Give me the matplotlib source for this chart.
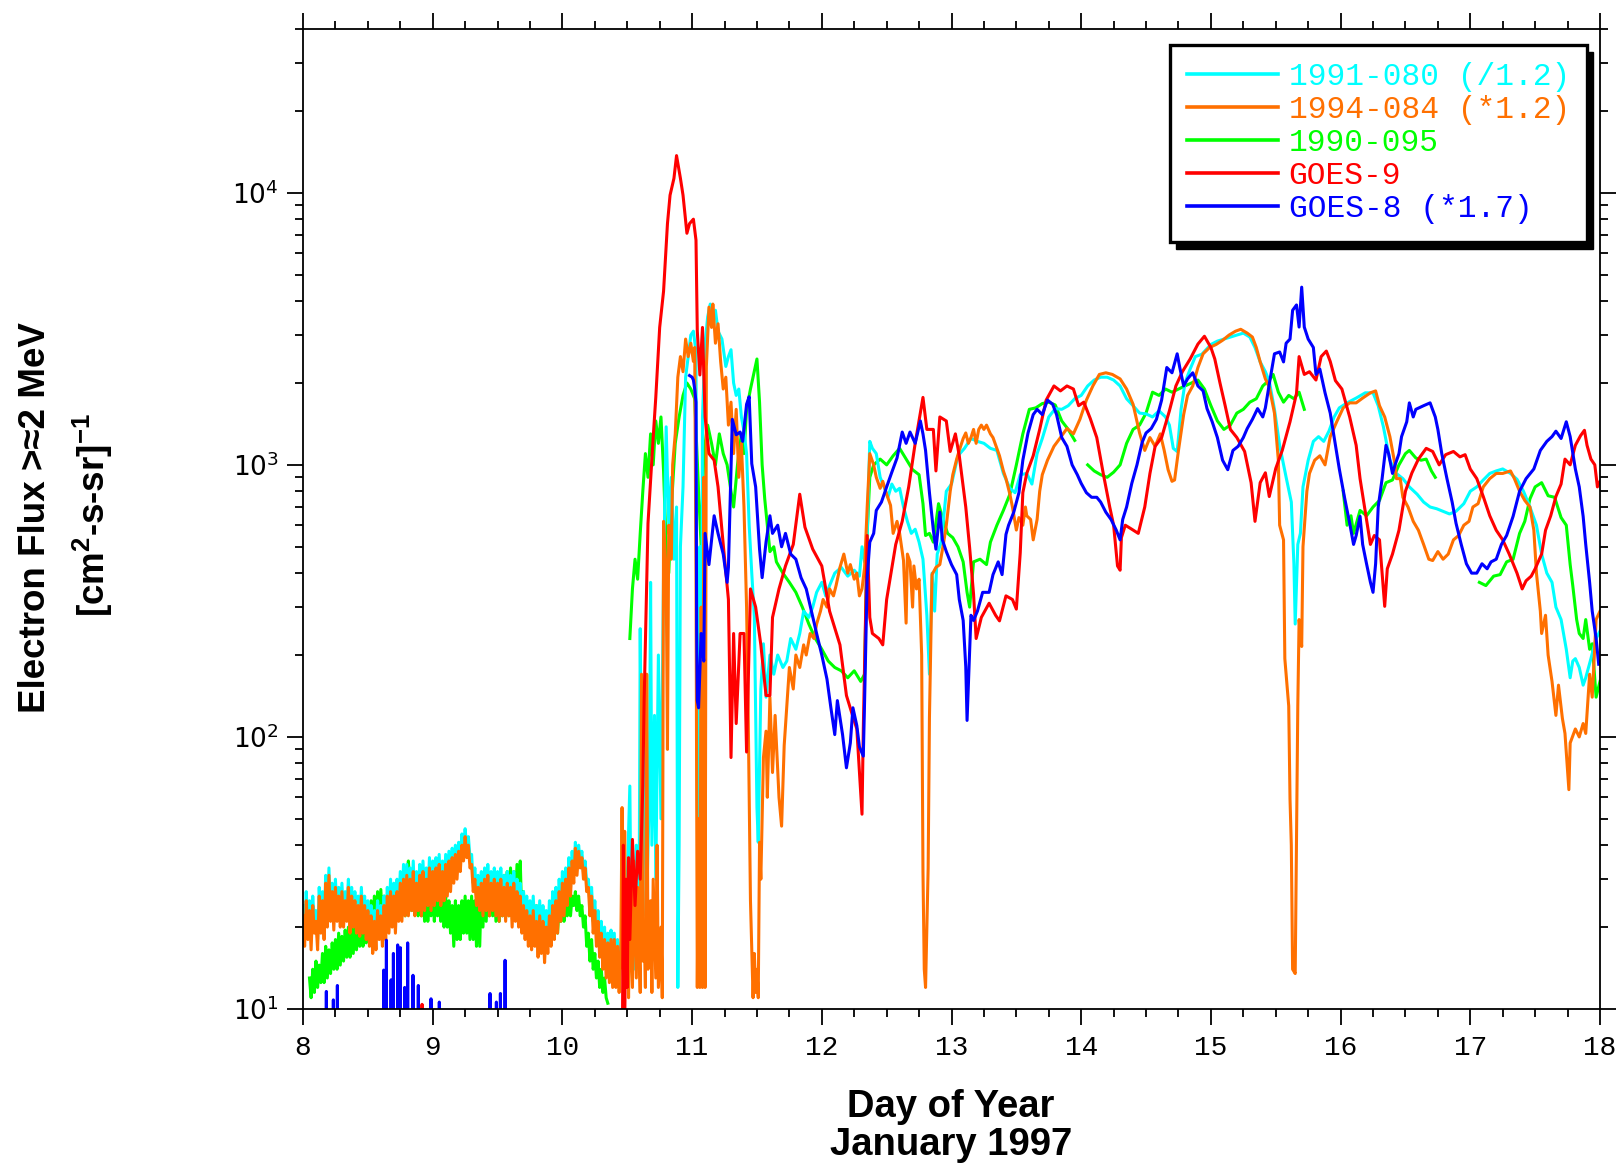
import numpy as np
import matplotlib
matplotlib.use("Agg")
import matplotlib.pyplot as plt
from matplotlib.ticker import MultipleLocator, LogLocator, NullFormatter
from matplotlib.patches import Rectangle

plt.rcParams["mathtext.fontset"] = "custom"
plt.rcParams["mathtext.bf"] = "Liberation Sans:bold"
plt.rcParams["mathtext.rm"] = "Liberation Sans"

nan = np.nan

# ---------------- data (day of year, flux) ----------------
x_ticks = list(range(8, 19))
x_tick_labels = [str(v) for v in x_ticks]
y_ticks = [10, 100, 1000, 10000]

series_labels = ["1991-080 (/1.2)", "1994-084 (*1.2)", "1990-095", "GOES-9", "GOES-8 (*1.7)"]
series_colors = ["#00FFFF", "#FF7000", "#00FF00", "#FF0000", "#0000FF"]

# early noisy parts: samples every 0.0125 day
early_step = 0.0125
orange_early_start = 8.0
orange_early = [22, 17, 25, 18, 23, 16.5, 24, 19,
                21, 16.5, 26, 19, 25, 18, 29, 20,
                31, 21, 27, 19.5, 28, 21, 26, 20,
                27, 20, 25, 21, 28, 19, 26, 20,
                25, 19, 24, 18.5, 26, 19, 24, 18,
                23, 17, 22, 16, 21, 16.5, 23, 18,
                22, 17, 24, 18, 26, 19, 27, 20,
                26, 19, 27, 21, 29, 21, 30, 22,
                31, 22, 30, 23, 32, 22, 29, 23,
                31, 22, 32, 23, 30, 24, 33, 23,
                32, 24, 33, 25, 34, 24, 32, 25,
                34, 26, 35, 27, 36, 29, 37, 30,
                38, 32, 40, 35, 43, 36, 40, 33,
                34, 27, 30, 24, 28, 23, 29, 22,
                30, 23, 31, 22, 29, 23, 30, 22,
                29, 21, 30, 22, 28, 21, 29, 22,
                28, 20, 29, 21, 27, 20, 26, 19,
                24, 18, 23, 17, 22, 16.5, 23, 17,
                21, 15.5, 22, 16, 21, 14.8, 20, 16,
                22, 17, 24, 18, 25, 19, 27, 21,
                29, 22, 30, 24, 33, 26, 35, 29,
                39, 31, 38, 33, 36, 30, 33, 27,
                28, 22, 26, 19, 23, 17, 21, 15.5,
                19, 14, 18, 13, 17.5, 12.5, 18, 12,
                18, 12, 17, 11.5, 16]
cyan_early_start = 8.0
cyan_early = [24, 19, 27, 20, 25, 18.5, 26, 21,
              23, 18, 28, 21, 27, 20, 31, 22,
              33, 23, 29, 21.5, 30, 23, 28, 22,
              29, 22, 27, 23, 30, 21, 28, 22,
              27, 21, 26, 20.5, 28, 21, 26, 20,
              25, 19, 24, 18, 23, 18.5, 25, 20,
              24, 19, 26, 20, 28, 21, 30, 22,
              29, 21, 30, 23, 32, 23, 34, 24,
              34, 24, 33, 25, 35, 24, 32, 25,
              34, 24, 35, 25, 33, 26, 36, 25,
              35, 26, 36, 27, 37, 26, 35, 27,
              37, 28, 38, 29, 39, 31, 40, 32,
              41, 35, 44, 38, 46, 39, 43, 36,
              37, 29, 33, 26, 31, 25, 32, 24,
              33, 25, 34, 24, 32, 25, 33, 24,
              32, 23, 33, 24, 31, 23, 32, 24,
              31, 22, 32, 23, 30, 22, 29, 21,
              27, 20, 26, 19, 25, 18.5, 26, 19,
              24, 17.5, 25, 18, 24, 17, 23, 18,
              25, 19, 27, 20, 28, 21, 30, 23,
              32, 24, 33, 26, 36, 28, 38, 31,
              41, 33, 40, 35, 38, 32, 35, 29,
              30, 24, 28, 21, 25, 19, 23, 17,
              21, 15.5, 20, 14.5, 19, 14, 19.5, 13,
              19, 13, 18, 12.5, 17]
green_early_start = 8.05
green_early = [13, 11, 14, 11.5, 15, 12, 14.5, 12.5,
               16, 12.5, 17, 13, 16.5, 13.5, 17.5, 14,
               18, 14, 19, 14.5, 18.5, 15, 19.5, 15.5,
               20, 15.5, 21, 16, 20.5, 16.5, 22, 17,
               22, 17, 23, 17.5, 24, 18, 25, 18.5,
               26, 19, 27, 19.5, 27.5, 20, 26, 20.5,
               25, 20, 26, 21, 26, 21, 27, 21.5,
               27, 22, 28, 22, 29, 35, 28, 23,
               29, 23, 28, 22, 27, 22, 28, 21,
               28, 21, 27, 22, 28, 21, 27, 22,
               26, 21, 27, 20, 26, 20, 25, 19,
               24, 17, 25, 18, 24, 18, 25, 19,
               26, 19, 25, 18, 26, 18, 25, 17,
               27, 17, 28, 20, 29, 21, 30, 22,
               31, 22, 30, 21, 31, 21, 29, 22,
               31, 23, 32, 22, 33, 22, 32, 24,
               34, 24, 35, 21, 27, 20, 25, 19,
               24, 19, 23, 18, 24, 18, 23, 17.5,
               22, 17, 21, 18, 22, 20, 24, 19,
               25, 19, 24, 21, 26, 21, 25, 22,
               27, 22, 26, 24, 27, 23, 26, 22,
               24, 20, 22, 17, 19, 15, 18, 14,
               16, 13, 15, 12, 14, 11.5, 13, 11,
               10.5]

cyan_late = [
    (10.47, 20), (10.49, 13), (10.5, 30), (10.52, 66), (10.53, 20), (10.55, 14), (10.57, 40),
    (10.59, 16), (10.6, 250), (10.61, 60), (10.62, 22), (10.63, 150), (10.65, 25), (10.67, 60),
    (10.68, 370), (10.69, 40), (10.71, 120), (10.72, 30), (10.74, 200), (10.76, 50), (10.78, 400),
    (10.8, 1380), (10.82, 600), (10.84, 900), (10.86, 450), (10.88, 700), (10.89, 12), (10.9, 40),
    (10.91, 500), (10.93, 830), (10.95, 2100), (10.97, 2500), (10.99, 3000), (11.01, 3100),
    (11.03, 2600), (11.04, 60), (11.05, 20), (11.06, 500), (11.07, 30), (11.08, 1500), (11.1, 2800),
    (11.12, 3500), (11.14, 3900), (11.16, 3400), (11.18, 3700), (11.2, 3100), (11.23, 2900),
    (11.26, 2300), (11.28, 2500), (11.3, 2650), (11.32, 2000), (11.34, 1800), (11.36, 1900),
    (11.38, 1500), (11.4, 1330), (11.42, 1100), (11.44, 600), (11.46, 400), (11.48, 275),
    (11.5, 55), (11.51, 41), (11.53, 150), (11.55, 220), (11.57, 140), (11.6, 200), (11.63, 170),
    (11.66, 200), (11.7, 180), (11.73, 190), (11.76, 230), (11.8, 210), (11.83, 240), (11.86, 290),
    (11.9, 275), (11.93, 300), (11.96, 340), (12.0, 370), (12.03, 330), (12.06, 360), (12.1, 400),
    (12.15, 420), (12.2, 390), (12.25, 410), (12.29, 390), (12.31, 500), (12.33, 440), (12.35, 560),
    (12.37, 1220), (12.39, 1150), (12.42, 1100), (12.45, 900), (12.48, 830), (12.51, 760),
    (12.54, 850), (12.57, 800), (12.6, 820), (12.63, 700), (12.66, 620), (12.69, 560), (12.72, 580),
    (12.75, 520), (12.78, 450), (12.81, 280), (12.83, 170), (12.85, 400), (12.87, 290), (12.89, 470),
    (12.92, 520), (12.96, 800), (13.0, 850), (13.05, 1080), (13.1, 1150), (13.15, 1250),
    (13.2, 1220), (13.25, 1200), (13.3, 1150), (13.35, 1130), (13.4, 930), (13.45, 820),
    (13.49, 790), (13.53, 920), (13.58, 930), (13.62, 850), (13.66, 1100), (13.7, 1250),
    (13.75, 1500), (13.8, 1610), (13.85, 1600), (13.9, 1650), (13.95, 1750), (14.0, 1800),
    (14.05, 1950), (14.1, 2050), (14.15, 2100), (14.2, 2100), (14.25, 2050), (14.3, 1950),
    (14.35, 1750), (14.4, 1650), (14.45, 1550), (14.5, 1540), (14.55, 1500), (14.6, 1580),
    (14.65, 1500), (14.68, 1400), (14.71, 1150), (14.74, 1120), (14.77, 1600), (14.8, 2000),
    (14.84, 2250), (14.88, 2500), (14.93, 2550), (15.0, 2770), (15.05, 2850), (15.1, 2900),
    (15.15, 2950), (15.2, 3000), (15.25, 3050), (15.3, 2950), (15.34, 2700), (15.38, 2390),
    (15.42, 2200), (15.45, 2030), (15.49, 1600), (15.53, 1180), (15.58, 900), (15.62, 730),
    (15.64, 433), (15.65, 260), (15.67, 510), (15.69, 560), (15.71, 830), (15.75, 1040),
    (15.79, 1220), (15.83, 1270), (15.87, 1220), (15.91, 1330), (15.95, 1500), (15.99, 1620),
    (16.05, 1690), (16.12, 1760), (16.19, 1840), (16.25, 1840), (16.29, 1650), (16.33, 1380),
    (16.38, 1040), (16.43, 930), (16.48, 890), (16.53, 830), (16.59, 780), (16.64, 730),
    (16.69, 700), (16.74, 690), (16.79, 675), (16.84, 660), (16.89, 675), (16.95, 720),
    (17.0, 800), (17.05, 830), (17.1, 880), (17.15, 930), (17.2, 950), (17.25, 966), (17.31, 930),
    (17.36, 885), (17.41, 800), (17.46, 700), (17.51, 600), (17.55, 470), (17.59, 400),
    (17.63, 370), (17.66, 300), (17.7, 270), (17.74, 210), (17.77, 165), (17.79, 190),
    (17.81, 194), (17.84, 180), (17.87, 155), (17.89, 165), (17.93, 194), (17.97, 230), (18.0, 245)]

orange_late = [
    (10.46, 55), (10.47, 14), (10.48, 45), (10.49, 12), (10.5, 30), (10.51, 11), (10.52, 25),
    (10.54, 12), (10.55, 35), (10.57, 13), (10.58, 28), (10.6, 11.5), (10.61, 170), (10.62, 15),
    (10.63, 20), (10.64, 12), (10.65, 170), (10.66, 14), (10.68, 25), (10.69, 11.5), (10.7, 30),
    (10.72, 13), (10.73, 40), (10.74, 12), (10.76, 20), (10.77, 11), (10.78, 620), (10.8, 400),
    (10.81, 90), (10.82, 600), (10.84, 450), (10.85, 1000), (10.87, 1300), (10.89, 2100),
    (10.91, 2500), (10.93, 2200), (10.95, 2900), (10.97, 2500), (10.99, 2800), (11.01, 2400),
    (11.02, 2700), (11.03, 400), (11.04, 12), (11.05, 50), (11.06, 12), (11.07, 300), (11.08, 12),
    (11.09, 900), (11.1, 12), (11.11, 2300), (11.13, 3800), (11.15, 3200), (11.16, 3900),
    (11.18, 2800), (11.2, 3300), (11.22, 2400), (11.24, 1900), (11.26, 2100), (11.28, 1400),
    (11.3, 1700), (11.32, 1100), (11.34, 1600), (11.36, 900), (11.38, 1200), (11.4, 700),
    (11.42, 300), (11.43, 150), (11.45, 25), (11.47, 11), (11.48, 16), (11.49, 11.5), (11.5, 14),
    (11.51, 11), (11.52, 41), (11.53, 30), (11.55, 84), (11.57, 105), (11.58, 60), (11.6, 140),
    (11.62, 74), (11.64, 120), (11.65, 95), (11.67, 60), (11.69, 47), (11.71, 93), (11.73, 130),
    (11.75, 180), (11.78, 150), (11.8, 200), (11.83, 180), (11.86, 218), (11.88, 200), (11.91, 240),
    (11.94, 230), (11.96, 260), (11.99, 290), (12.01, 320), (12.04, 300), (12.06, 350), (12.09, 330),
    (12.11, 360), (12.14, 420), (12.17, 470), (12.2, 400), (12.22, 430), (12.25, 380), (12.27, 400),
    (12.29, 330), (12.31, 350), (12.33, 420), (12.35, 700), (12.37, 1100), (12.4, 1000),
    (12.42, 900), (12.45, 820), (12.47, 870), (12.5, 780), (12.53, 710), (12.55, 560), (12.58, 620),
    (12.6, 560), (12.62, 480), (12.63, 445), (12.65, 262), (12.66, 470), (12.68, 440), (12.7, 300),
    (12.71, 425), (12.73, 350), (12.75, 380), (12.77, 200), (12.78, 32), (12.79, 14), (12.8, 12),
    (12.81, 20), (12.82, 33), (12.83, 118), (12.85, 395), (12.88, 420), (12.91, 430), (12.94, 520),
    (12.96, 600), (12.99, 800), (13.01, 920), (13.04, 1050), (13.06, 1130), (13.09, 1250),
    (13.11, 1310), (13.13, 1200), (13.15, 1260), (13.17, 1350), (13.19, 1200), (13.21, 1350),
    (13.23, 1400), (13.25, 1350), (13.27, 1400), (13.3, 1300), (13.32, 1260), (13.35, 1150),
    (13.37, 1080), (13.4, 950), (13.42, 890), (13.45, 780), (13.47, 700), (13.5, 576), (13.52, 640),
    (13.55, 600), (13.57, 700), (13.58, 650), (13.61, 630), (13.63, 530), (13.66, 630), (13.68, 800),
    (13.7, 920), (13.74, 1040), (13.79, 1170), (13.84, 1260), (13.89, 1360), (13.94, 1300),
    (13.99, 1470), (14.04, 1730), (14.09, 1950), (14.14, 2150), (14.19, 2180), (14.24, 2150),
    (14.3, 2070), (14.35, 1900), (14.4, 1670), (14.45, 1310), (14.49, 1130), (14.53, 1260),
    (14.57, 1170), (14.61, 1300), (14.64, 1130), (14.67, 960), (14.7, 870), (14.72, 880),
    (14.75, 1130), (14.79, 1530), (14.82, 1800), (14.86, 1950), (14.9, 2280), (14.94, 2560),
    (14.99, 2700), (15.04, 2770), (15.09, 2870), (15.14, 3000), (15.19, 3100), (15.23, 3150),
    (15.28, 3050), (15.32, 2950), (15.35, 2700), (15.38, 2390), (15.42, 2070), (15.45, 1930),
    (15.49, 1550), (15.52, 1040), (15.53, 600), (15.56, 530), (15.57, 194), (15.6, 130),
    (15.61, 59), (15.62, 40), (15.63, 14), (15.65, 13.5), (15.66, 40), (15.67, 130), (15.68, 270),
    (15.7, 215), (15.71, 500), (15.74, 800), (15.76, 930), (15.8, 1040), (15.84, 1080), (15.88, 1000),
    (15.92, 1270), (15.97, 1440), (16.02, 1620), (16.07, 1690), (16.12, 1690), (16.17, 1760),
    (16.23, 1840), (16.27, 1870), (16.3, 1650), (16.34, 1500), (16.38, 1270), (16.42, 1000),
    (16.43, 890), (16.46, 890), (16.48, 760), (16.52, 700), (16.56, 620), (16.6, 575), (16.64, 510),
    (16.68, 450), (16.71, 445), (16.75, 480), (16.79, 450), (16.83, 470), (16.87, 530), (16.91, 550),
    (16.95, 600), (16.99, 620), (17.02, 700), (17.06, 720), (17.1, 830), (17.15, 890), (17.2, 930),
    (17.25, 930), (17.31, 950), (17.34, 890), (17.38, 800), (17.42, 740), (17.46, 700), (17.49, 575),
    (17.51, 400), (17.54, 290), (17.55, 240), (17.58, 280), (17.6, 200), (17.63, 160), (17.66, 120),
    (17.68, 155), (17.71, 117), (17.73, 103), (17.76, 64), (17.77, 95), (17.81, 107), (17.84, 100),
    (17.87, 112), (17.89, 103), (17.92, 170), (17.94, 140), (17.97, 270), (18.0, 290)]

green_late = [
    (10.45, nan), (10.52, 230), (10.54, 350), (10.56, 450), (10.58, 380), (10.6, 560), (10.62, 800),
    (10.64, 1100), (10.66, 900), (10.68, 1300), (10.7, 1000), (10.72, 1450), (10.74, 1200),
    (10.76, 1500), (10.78, 950), (10.8, 500), (10.82, 400), (10.84, 700), (10.87, 1200), (10.9, 1500),
    (10.93, 1800), (10.96, 2000), (10.99, 1900), (11.02, 1750), (11.05, 800), (11.07, 500),
    (11.09, 1100), (11.12, 1400), (11.15, 1200), (11.18, 1000), (11.21, 1300), (11.24, 1100),
    (11.27, 1000), (11.3, 800), (11.32, 700), (11.35, 1000), (11.38, 1300), (11.4, 1100),
    (11.42, 1600), (11.45, 1900), (11.47, 2100), (11.5, 2450), (11.52, 1700), (11.54, 1000),
    (11.56, 750), (11.58, 600), (11.6, 480), (11.63, 500), (11.65, 440), (11.7, 400), (11.75, 370),
    (11.8, 340), (11.85, 300), (11.9, 260), (11.95, 230), (12.0, 210), (12.05, 190), (12.1, 180),
    (12.15, 175), (12.2, 165), (12.25, 175), (12.3, 160), (12.33, 170), (12.35, 560), (12.37, 900),
    (12.4, 1000), (12.45, 1050), (12.5, 1000), (12.55, 1080), (12.6, 1150), (12.65, 1050),
    (12.7, 960), (12.75, 920), (12.78, 720), (12.8, 550), (12.83, 560), (12.86, 520), (12.9, 720),
    (12.93, 640), (12.97, 560), (13.01, 540), (13.05, 500), (13.09, 440), (13.12, 340), (13.14, 300),
    (13.17, 440), (13.22, 450), (13.27, 430), (13.3, 520), (13.35, 600), (13.4, 680), (13.45, 780),
    (13.5, 1000), (13.55, 1300), (13.6, 1600), (13.65, 1620), (13.7, 1680), (13.75, 1700),
    (13.8, 1660), (13.85, 1450), (13.9, 1350), (13.95, 1230), (14.0, nan), (14.05, 1000),
    (14.1, 950), (14.15, 920), (14.2, 900), (14.25, 940), (14.3, 1000), (14.35, 1200), (14.4, 1350),
    (14.45, 1400), (14.5, 1550), (14.55, 1850), (14.6, 1800), (14.65, 1900), (14.7, 1850),
    (14.75, 1900), (14.8, 1950), (14.85, 2000), (14.9, 2050), (14.95, 1900), (15.0, 1650),
    (15.05, 1450), (15.1, 1350), (15.15, 1400), (15.2, 1550), (15.25, 1600), (15.3, 1700),
    (15.35, 1750), (15.4, 1950), (15.45, 2050), (15.48, 2150), (15.52, 1850), (15.56, 1700),
    (15.6, 1800), (15.64, 1750), (15.68, 1850), (15.72, 1600), (15.8, nan), (16.02, 800),
    (16.05, 600), (16.08, 650), (16.1, 560), (16.15, 680), (16.2, 650), (16.25, 700), (16.3, 740),
    (16.35, 860), (16.4, 880), (16.45, 1000), (16.5, 1100), (16.53, 1130), (16.58, 1060),
    (16.62, 1040), (16.66, 1050), (16.7, 950), (16.73, 900), (16.8, nan), (17.07, 370),
    (17.12, 360), (17.18, 390), (17.23, 395), (17.28, 440), (17.33, 450), (17.38, 560), (17.42, 620),
    (17.46, 750), (17.5, 830), (17.55, 860), (17.6, 770), (17.65, 760), (17.7, 640), (17.74, 600),
    (17.77, 430), (17.79, 360), (17.82, 270), (17.84, 240), (17.87, 230), (17.89, 270), (17.92, 210),
    (17.94, 220), (17.97, 140), (18.0, 160)]

red_pts = [
    (8.0, 4), (8.915, 4), (8.918, 10.4), (8.921, 4), (10.46, 4), (10.47, 40), (10.48, 8), (10.49, 30),
    (10.5, 12), (10.51, 36), (10.52, 18), (10.54, 42), (10.56, 24), (10.58, 38), (10.6, 30),
    (10.62, 66), (10.63, 135), (10.66, 610), (10.7, 1260), (10.72, 1770), (10.75, 3200),
    (10.78, 4350), (10.81, 7700), (10.83, 9800), (10.86, 11300), (10.88, 13700), (10.91, 11300),
    (10.93, 9800), (10.96, 7100), (10.98, 7700), (11.01, 8000), (11.03, 6700), (11.04, 3100),
    (11.06, 2140), (11.08, 3200), (11.1, 1500), (11.13, 1100), (11.17, 1040), (11.2, 830),
    (11.24, 510), (11.28, 320), (11.3, 84), (11.32, 240), (11.34, 112), (11.37, 240), (11.4, 240),
    (11.42, 88), (11.45, 350), (11.49, 300), (11.53, 218), (11.57, 142), (11.6, 142), (11.62, 275),
    (11.67, 350), (11.72, 425), (11.78, 510), (11.83, 780), (11.87, 590), (11.93, 490), (12.0, 425),
    (12.06, 290), (12.14, 218), (12.19, 142), (12.23, 123), (12.27, 107), (12.31, 52), (12.32, 107),
    (12.35, 550), (12.37, 275), (12.39, 240), (12.44, 230), (12.47, 218), (12.5, 320), (12.57, 510),
    (12.62, 620), (12.67, 830), (12.72, 1200), (12.78, 1770), (12.81, 1350), (12.86, 1350),
    (12.88, 950), (12.91, 1500), (12.96, 1450), (12.99, 1120), (13.03, 1300), (13.06, 1080),
    (13.11, 700), (13.14, 495), (13.17, 335), (13.19, 230), (13.23, 275), (13.29, 310), (13.34, 280),
    (13.37, 267), (13.42, 330), (13.47, 320), (13.5, 295), (13.53, 475), (13.55, 790), (13.58, 930),
    (13.63, 1080), (13.68, 1350), (13.73, 1730), (13.79, 1950), (13.84, 1870), (13.89, 1950),
    (13.94, 1900), (13.98, 1650), (14.02, 1700), (14.07, 1480), (14.12, 1260), (14.17, 930),
    (14.22, 700), (14.25, 600), (14.28, 425), (14.3, 410), (14.31, 540), (14.34, 600), (14.39, 580),
    (14.44, 560), (14.49, 700), (14.53, 930), (14.57, 1170), (14.62, 1260), (14.68, 1580),
    (14.73, 1950), (14.78, 2200), (14.84, 2450), (14.9, 2780), (14.95, 2970), (15.0, 2700),
    (15.03, 2450), (15.07, 2000), (15.11, 1650), (15.15, 1350), (15.2, 1260), (15.26, 1120),
    (15.31, 860), (15.34, 620), (15.38, 860), (15.42, 935), (15.45, 765), (15.5, 970), (15.55, 1130),
    (15.61, 1440), (15.66, 1830), (15.68, 2500), (15.72, 2150), (15.76, 2200), (15.81, 2050),
    (15.85, 2500), (15.89, 2620), (15.92, 2400), (15.96, 2040), (16.01, 1900), (16.07, 1500),
    (16.12, 1180), (16.15, 890), (16.19, 675), (16.23, 510), (16.26, 550), (16.3, 530), (16.34, 302),
    (16.36, 415), (16.4, 470), (16.45, 575), (16.5, 800), (16.55, 935), (16.6, 1050), (16.66, 1150),
    (16.71, 1120), (16.76, 1000), (16.81, 1090), (16.87, 1120), (16.92, 1070), (16.96, 1090),
    (17.0, 965), (17.05, 890), (17.1, 765), (17.15, 650), (17.2, 575), (17.25, 530), (17.3, 470),
    (17.36, 400), (17.4, 350), (17.43, 375), (17.47, 390), (17.5, 415), (17.55, 470), (17.58, 575),
    (17.62, 650), (17.66, 765), (17.7, 850), (17.73, 1050), (17.77, 1000), (17.81, 1180),
    (17.85, 1280), (17.88, 1340), (17.9, 1180), (17.93, 1050), (17.96, 1000), (17.98, 830), (18.0, 870)]

blue_pts = [
    (8.0, 1), (8.178, 1), (8.18, 11.6), (8.182, 1), (8.232, 1), (8.234, 10.8), (8.236, 1),
    (8.263, 1), (8.265, 12.2), (8.267, 1), (8.619, 1), (8.622, 13.9), (8.625, 1), (8.64, 1),
    (8.643, 17.9), (8.646, 1), (8.676, 1), (8.679, 12.8), (8.682, 1), (8.694, 1), (8.697, 16.0),
    (8.7, 1), (8.727, 1), (8.73, 17.2), (8.733, 1), (8.748, 1), (8.751, 16.8), (8.754, 1),
    (8.781, 1), (8.784, 12.0), (8.787, 1), (8.804, 1), (8.807, 17.5), (8.81, 1), (8.845, 1),
    (8.848, 13.3), (8.851, 1), (8.886, 1), (8.889, 12.2), (8.892, 1), (8.984, 1), (8.987, 10.9),
    (8.99, 1), (9.048, 1), (9.051, 10.6), (9.054, 1), (9.439, 1), (9.442, 11.4), (9.445, 1),
    (9.488, 1), (9.491, 10.6), (9.494, 1), (9.519, 1), (9.522, 11.4), (9.525, 1), (9.555, 1),
    (9.558, 15.1), (9.561, 1), (10.97, nan),
    (10.98, 2130), (11.0, 2100), (11.01, 2050), (11.02, 1900), (11.03, 1700), (11.035, 250),
    (11.04, 136), (11.05, 128), (11.07, 240), (11.09, 190), (11.1, 560), (11.13, 430), (11.17, 650),
    (11.2, 560), (11.24, 470), (11.27, 370), (11.28, 420), (11.31, 1470), (11.34, 1290),
    (11.37, 1320), (11.39, 1220), (11.42, 1670), (11.44, 1780), (11.46, 1010), (11.49, 830),
    (11.52, 490), (11.54, 385), (11.57, 520), (11.6, 650), (11.62, 560), (11.66, 600), (11.69, 500),
    (11.72, 560), (11.76, 470), (11.8, 450), (11.84, 385), (11.88, 350), (11.92, 290), (11.96, 240),
    (12.0, 200), (12.04, 163), (12.07, 128), (12.1, 102), (12.12, 136), (12.16, 102), (12.19, 77),
    (12.22, 95), (12.24, 128), (12.27, 110), (12.29, 92), (12.32, 85), (12.33, 136), (12.35, 385),
    (12.37, 520), (12.4, 560), (12.42, 680), (12.46, 730), (12.5, 830), (12.54, 940), (12.58, 1060),
    (12.62, 1320), (12.65, 1200), (12.68, 1320), (12.72, 1200), (12.76, 1450), (12.78, 1300),
    (12.8, 1130), (12.83, 790), (12.86, 576), (12.88, 490), (12.91, 670), (12.93, 530), (12.96, 480),
    (13.0, 430), (13.04, 395), (13.06, 320), (13.09, 268), (13.11, 181), (13.12, 115), (13.14, 210),
    (13.15, 280), (13.17, 268), (13.2, 290), (13.24, 340), (13.29, 340), (13.32, 395), (13.36, 440),
    (13.39, 395), (13.42, 555), (13.44, 600), (13.48, 670), (13.52, 790), (13.55, 1040),
    (13.59, 1310), (13.63, 1530), (13.66, 1600), (13.7, 1530), (13.74, 1730), (13.78, 1670),
    (13.81, 1530), (13.85, 1260), (13.89, 1170), (13.93, 1000), (13.97, 920), (14.0, 855),
    (14.04, 790), (14.08, 760), (14.12, 760), (14.15, 730), (14.19, 670), (14.23, 630), (14.27, 576),
    (14.3, 530), (14.32, 630), (14.35, 700), (14.39, 855), (14.43, 1000), (14.47, 1210), (14.5, 1310),
    (14.54, 1360), (14.58, 1470), (14.62, 1730), (14.66, 2280), (14.7, 2180), (14.74, 2560),
    (14.76, 2280), (14.79, 1950), (14.82, 2070), (14.86, 2180), (14.9, 1950), (14.94, 1870),
    (14.97, 1610), (15.01, 1440), (15.05, 1260), (15.09, 1040), (15.13, 960), (15.17, 1130),
    (15.21, 1170), (15.25, 1260), (15.28, 1360), (15.32, 1470), (15.36, 1610), (15.4, 1500),
    (15.42, 1620), (15.45, 1980), (15.49, 2560), (15.53, 2600), (15.56, 2390), (15.58, 2800),
    (15.61, 2900), (15.63, 3700), (15.66, 3870), (15.68, 3210), (15.7, 4500), (15.72, 3210),
    (15.75, 2900), (15.79, 2700), (15.81, 2150), (15.84, 2250), (15.88, 1840), (15.92, 1550),
    (15.96, 1180), (15.99, 966), (16.03, 760), (16.07, 610), (16.1, 510), (16.12, 550), (16.15, 647),
    (16.17, 510), (16.2, 433), (16.23, 370), (16.25, 340), (16.27, 433), (16.29, 700), (16.32, 890),
    (16.35, 1180), (16.37, 1100), (16.4, 930), (16.42, 1000), (16.45, 1100), (16.47, 1270),
    (16.51, 1440), (16.53, 1690), (16.56, 1500), (16.58, 1600), (16.64, 1650), (16.69, 1690),
    (16.73, 1500), (16.75, 1350), (16.78, 1100), (16.82, 890), (16.86, 730), (16.89, 610),
    (16.93, 510), (16.97, 433), (17.01, 400), (17.05, 400), (17.09, 433), (17.13, 415), (17.16, 440),
    (17.2, 450), (17.24, 510), (17.28, 550), (17.33, 647), (17.38, 800), (17.43, 890), (17.49, 966),
    (17.54, 1130), (17.59, 1220), (17.63, 1270), (17.66, 1330), (17.7, 1250), (17.74, 1440),
    (17.77, 1270), (17.81, 966), (17.84, 830), (17.87, 647), (17.89, 510), (17.92, 370), (17.94, 290),
    (17.97, 230), (17.99, 185)]


def early_series(start, vals, late):
    t = list(start + early_step * np.arange(len(vals)))
    v = list(vals)
    t += [p[0] for p in late]
    v += [p[1] for p in late]
    return np.array(t), np.array(v, dtype=float)


def pts_series(pts):
    return np.array([p[0] for p in pts]), np.array([p[1] for p in pts], dtype=float)


cyan_t, cyan_v = early_series(cyan_early_start, cyan_early, cyan_late)
orange_t, orange_v = early_series(orange_early_start, orange_early, orange_late)
green_t, green_v = early_series(green_early_start, green_early, green_late)
red_t, red_v = pts_series(red_pts)
blue_t, blue_v = pts_series(blue_pts)

# ---------------- figure ----------------
W, H = 1621, 1165
fig = plt.figure(figsize=(W / 100, H / 100), dpi=100)
fig.patch.set_facecolor("white")
ax_l, ax_r, ax_t, ax_b = 303, 1600, 29, 1009
ax = fig.add_axes([ax_l / W, 1 - ax_b / H, (ax_r - ax_l) / W, (ax_b - ax_t) / H])

LW = 2.2
h_green, = ax.plot(green_t, green_v, color=series_colors[2], lw=LW, label=series_labels[2])
h_cyan, = ax.plot(cyan_t, cyan_v, color=series_colors[0], lw=LW, label=series_labels[0])
h_orange, = ax.plot(orange_t, orange_v, color=series_colors[1], lw=LW, label=series_labels[1])
h_red, = ax.plot(red_t, red_v, color=series_colors[3], lw=LW, label=series_labels[3])
h_blue, = ax.plot(blue_t, blue_v, color=series_colors[4], lw=LW, label=series_labels[4])

ax.set_yscale("log")
ax.set_xlim(8, 18)
ax.set_ylim(10, 4.0e4)

ax.set_xticks(x_ticks)
ax.set_xticklabels(x_tick_labels, fontfamily="Liberation Mono", fontsize=20)
ax.xaxis.set_minor_locator(MultipleLocator(0.25))
ax.set_yticks(y_ticks)
ax.yaxis.set_minor_locator(LogLocator(base=10, subs=np.arange(2, 10)))
ax.yaxis.set_minor_formatter(NullFormatter())

ax.tick_params(which="both", direction="out", top=True, right=True, width=1.3, color="black")
ax.tick_params(which="major", length=11.5)
ax.tick_params(which="minor", length=5.8)
ax.tick_params(axis="x", which="major", pad=7)
ax.tick_params(axis="y", which="major", labelsize=19, pad=6)
for s in ax.spines.values():
    s.set_linewidth(1.3)

# legend
handles = [h_cyan, h_orange, h_green, h_red, h_blue]
leg = ax.legend(handles, series_labels, loc="upper right", bbox_to_anchor=(0.990, 0.984),
                borderaxespad=0, frameon=True, fancybox=False, edgecolor="black", framealpha=1,
                prop={"family": "Liberation Mono", "size": 22.5}, labelcolor="linecolor",
                handlelength=2.9, handletextpad=0.35, labelspacing=0.1, borderpad=0.55)
leg.get_frame().set_linewidth(2.4)
for ln in leg.get_lines():
    ln.set_linewidth(2.6)

fig.canvas.draw()
bb = leg.get_window_extent()
inv = ax.transAxes.inverted()
(x0, y0) = inv.transform((bb.x0 + 6, bb.y0 - 7))
(x1, y1) = inv.transform((bb.x1 + 6, bb.y1 - 7))
shadow = Rectangle((x0, y0), x1 - x0, y1 - y0, transform=ax.transAxes, facecolor="black",
                   edgecolor="black", zorder=4.9, clip_on=False)
ax.add_patch(shadow)

# axis labels
ylab = dict(fontfamily="Liberation Sans", fontweight="bold", fontsize=26.5)
xlab = dict(fontfamily="Liberation Sans", fontweight="bold", fontsize=27.5)
fig.text(45 / W, 1 - 518 / H, "Electron Flux >\u22482 MeV", rotation=90, rotation_mode="anchor",
         ha="center", va="baseline", **ylab)
fig.text(105 / W, 1 - 515 / H, r"[cm$^\mathbf{2}$-s-sr]$^\mathbf{-1}$", rotation=90,
         rotation_mode="anchor", ha="center", va="baseline", **ylab)
fig.text(951 / W, 1 - 1117 / H, "Day of Year", ha="center", va="baseline", **xlab)
fig.text(951 / W, 1 - 1155 / H, "January 1997", ha="center", va="baseline", **xlab)

fig.savefig("out.png", dpi=100, facecolor="white")
